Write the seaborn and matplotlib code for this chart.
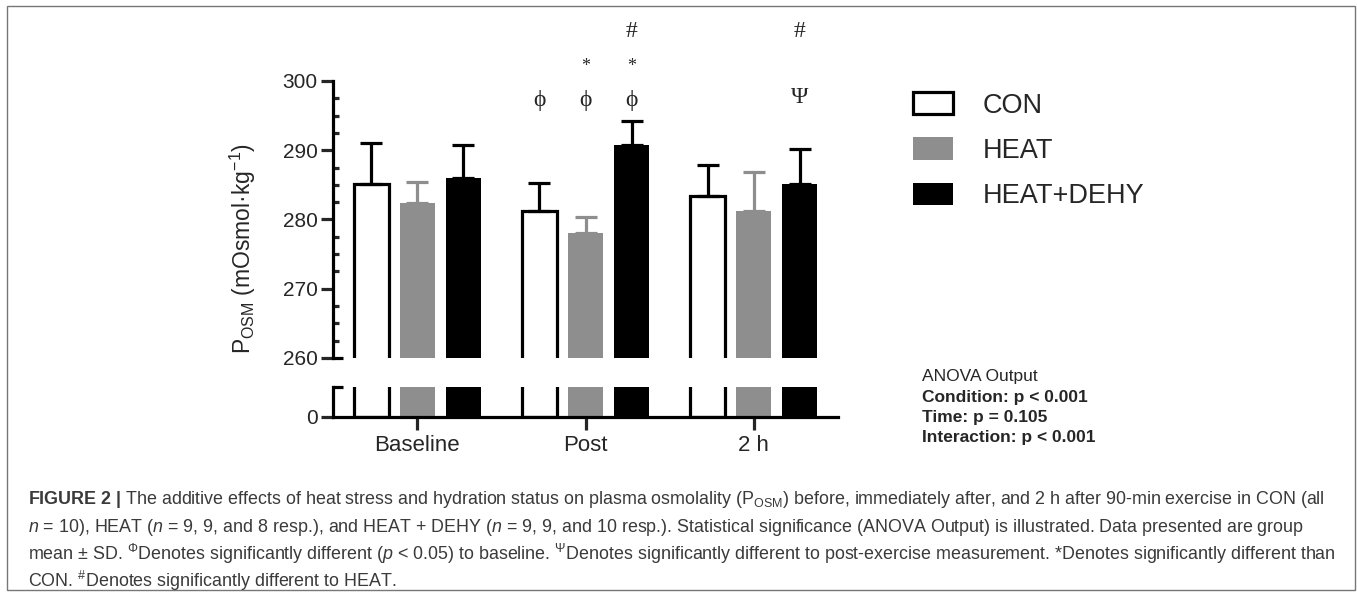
import pandas as pd
import matplotlib.pyplot as plt
import seaborn as sns
from matplotlib.patches import Rectangle

# group means and SDs (mOsmol/kg)
times = ["Baseline", "Post", "2 h"]
conditions = ["CON", "HEAT", "HEAT+DEHY"]
con_mean = [285.1, 281.2, 283.4]
con_sd = [5.9, 4.1, 4.4]
heat_mean = [282.4, 278.0, 281.2]
heat_sd = [3.0, 2.3, 5.7]
dehy_mean = [286.0, 290.7, 285.1]
dehy_sd = [4.7, 3.5, 5.1]

# significance symbols above bars
annot_time = ["Post", "Post", "Post", "Post", "Post", "Post", "2 h", "2 h"]
annot_cond = ["CON", "HEAT", "HEAT+DEHY", "HEAT", "HEAT+DEHY", "HEAT+DEHY", "HEAT+DEHY", "HEAT+DEHY"]
annot_sym = ["\u03d5", "\u03d5", "\u03d5", "*", "*", "#", "\u03a8", "#"]
annot_y = [297.2, 297.2, 297.2, 302.1, 302.1, 307.1, 297.6, 307.1]

anova_lines = ["ANOVA Output", "Condition: p < 0.001", "Time: p = 0.105", "Interaction: p < 0.001"]

caption_lines = [
    r"$\mathbf{FIGURE\ 2\ |}$ The additive effects of heat stress and hydration status on plasma osmolality (P$_{\mathrm{OSM}}$) before, immediately after, and 2 h after 90-min exercise in CON (all",
    r"$\mathit{n}$ = 10), HEAT ($\mathit{n}$ = 9, 9, and 8 resp.), and HEAT + DEHY ($\mathit{n}$ = 9, 9, and 10 resp.). Statistical significance (ANOVA Output) is illustrated. Data presented are group",
    r"mean ± SD. $^{\Phi}$Denotes significantly different ($\mathit{p}$ < 0.05) to baseline. $^{\Psi}$Denotes significantly different to post-exercise measurement. *Denotes significantly different than",
    r"CON. $^{\#}$Denotes significantly different to HEAT.",
]

means = {"CON": con_mean, "HEAT": heat_mean, "HEAT+DEHY": dehy_mean}
sds = {"CON": con_sd, "HEAT": heat_sd, "HEAT+DEHY": dehy_sd}
df = pd.DataFrame([
    {"time": t, "condition": c, "value": means[c][i], "sd": sds[c][i]}
    for c in conditions for i, t in enumerate(times)
])

sns.set_style("ticks")
plt.rcParams["font.family"] = ["Liberation Sans", "DejaVu Sans"]
plt.rcParams["mathtext.fontset"] = "custom"
plt.rcParams["mathtext.rm"] = "Liberation Sans"
plt.rcParams["mathtext.it"] = "Liberation Sans:italic"
plt.rcParams["mathtext.bf"] = "Liberation Sans:bold"

palette = {"CON": "white", "HEAT": "#8e8e8e", "HEAT+DEHY": "black"}
err_colors = {"CON": "black", "HEAT": "#8e8e8e", "HEAT+DEHY": "black"}
LW = 2.3
W, H = 1357, 592

fig = plt.figure(figsize=(13.57, 5.92), dpi=100)
left, right = 333 / W, 838 / W
ax_top = fig.add_axes([left, 1 - 358 / H, right - left, (358 - 81) / H])
ax_bot = fig.add_axes([left, 1 - 417 / H, right - left, (417 - 387) / H])

for ax in (ax_top, ax_bot):
    sns.barplot(data=df, x="time", y="value", hue="condition", order=times,
                hue_order=conditions, palette=palette, saturation=1,
                width=0.82, gap=0.24, errorbar=None, ax=ax, legend=(ax is ax_top))
    for cont, cond in zip(ax.containers, conditions):
        for p in cont:
            if cond == "CON":
                p.set_edgecolor("black")
                p.set_linewidth(LW)
            else:
                p.set_edgecolor("none")
    ax.set_xlim(-0.5, 2.5)
    ax.set_xlabel("")
    ax.set_ylabel("")
    for s in ax.spines.values():
        s.set_linewidth(LW)
        s.set_color("black")

# error bars (upper SD only) and symbols
bar_x = {}
for cont, cond in zip(ax_top.containers, conditions):
    for p, t in zip(cont, times):
        bar_x[(t, cond)] = p.get_x() + p.get_width() / 2
for cond in conditions:
    sub = df[df["condition"] == cond]
    xs = [bar_x[(t, cond)] for t in sub["time"]]
    ax_top.errorbar(xs, sub["value"], yerr=[[0] * len(sub), sub["sd"]], fmt="none",
                    ecolor=err_colors[cond], elinewidth=LW, capsize=8, capthick=LW, zorder=1)

for t, c, s, y in zip(annot_time, annot_cond, annot_sym, annot_y):
    fs = 13 if s == "*" else 17
    ax_top.text(bar_x[(t, c)], y, s, ha="center", va="center", fontsize=fs,
                family=["Liberation Serif", "DejaVu Serif"], clip_on=False)

# top axis
ax_top.set_ylim(260, 300)
ax_top.set_yticks([260, 270, 280, 290, 300])
ax_top.set_yticks([v for v in [260 + 2.5 * k for k in range(17)] if v % 10], minor=True)
ax_top.tick_params(axis="y", which="major", length=9, width=LW, labelsize=15, pad=2, direction="out")
ax_top.tick_params(axis="y", which="minor", length=4.5, width=LW, direction="in")
ax_top.tick_params(axis="x", bottom=False, labelbottom=False)
for s in ("top", "right", "bottom"):
    ax_top.spines[s].set_visible(False)
ax_top.plot([0, 10 / (838 - 333)], [0, 0], transform=ax_top.transAxes,
            color="black", lw=LW, clip_on=False, solid_capstyle="butt")

# bottom axis
ax_bot.set_ylim(0, 5)
ax_bot.set_yticks([0])
ax_bot.tick_params(axis="y", length=9, width=LW, labelsize=15, pad=2)
ax_bot.tick_params(axis="x", length=9, width=LW, labelsize=16, pad=4)
for s in ("top", "right"):
    ax_bot.spines[s].set_visible(False)
ax_bot.plot([0, 10 / (838 - 333)], [1, 1], transform=ax_bot.transAxes,
            color="black", lw=LW, clip_on=False, solid_capstyle="butt")

fig.text(243 / W, 1 - 249 / H, r"P$_{\mathrm{OSM}}$ (mOsmol·kg$^{\mathrm{-1}}$)",
         rotation=90, ha="center", va="center", fontsize=16.5)

# legend
handles, labels = ax_top.get_legend_handles_labels()
ax_top.get_legend().remove()
for h, lab in zip(handles, labels):
    if lab == "CON":
        h.set_edgecolor("black")
        h.set_linewidth(LW)
    else:
        h.set_edgecolor("none")
fig.legend(handles, labels, loc="upper left", bbox_to_anchor=(913 / W, 1 - 92 / H),
           frameon=False, fontsize=19.5, handlelength=1.48, handleheight=0.89,
           handletextpad=1.1, labelspacing=0.7, borderpad=0, borderaxespad=0)

# ANOVA box
for i, line in enumerate(anova_lines):
    fig.text(922 / W, 1 - (377 + 20.3 * i) / H, line, ha="left", va="center",
             fontsize=12.5, fontweight="normal" if i == 0 else "bold")

# caption
for i, line in enumerate(caption_lines):
    fig.text(28 / W, 1 - (500 + 27 * i) / H, line, ha="left", va="center",
             fontsize=12.9, color="#3a3a3a")

fig.add_artist(Rectangle((7 / W, 1 - 590 / H), (1355 - 7) / W, (590 - 6) / H,
                         transform=fig.transFigure, fill=False, edgecolor="#777777", lw=1))

fig.savefig("out.png", dpi=100)
